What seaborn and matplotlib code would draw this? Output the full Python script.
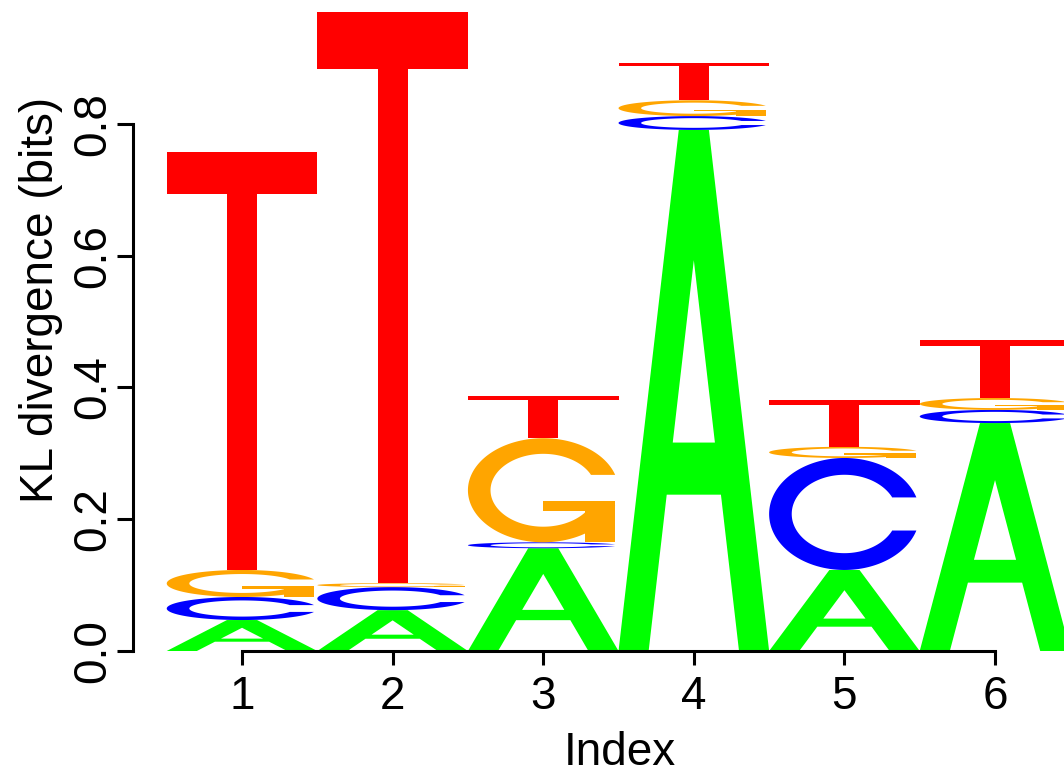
import numpy as np
import matplotlib
matplotlib.use("Agg")
import matplotlib.pyplot as plt
import seaborn as sns
from matplotlib.patches import PathPatch
from matplotlib.path import Path
from matplotlib.transforms import Affine2D

# Per-position information content (bits) for each base, stacked A, C, G, T
positions = [1, 2, 3, 4, 5, 6]
bases = ["A", "C", "G", "T"]
a_bits = [0.047, 0.062, 0.156, 0.791, 0.123, 0.346]
c_bits = [0.035, 0.035, 0.009, 0.021, 0.170, 0.020]
g_bits = [0.041, 0.006, 0.158, 0.024, 0.017, 0.018]
t_bits = [0.634, 0.867, 0.064, 0.057, 0.071, 0.088]
y_ticks = [0.0, 0.2, 0.4, 0.6, 0.8]
y_tick_labels = ["0.0", "0.2", "0.4", "0.6", "0.8"]
x_tick_labels = ["1", "2", "3", "4", "5", "6"]

bits = {"A": a_bits, "C": c_bits, "G": g_bits, "T": t_bits}
base_colors = {"A": "#00FF00", "C": "#0000FF", "G": "#FFA500", "T": "#FF0000"}

sns.set_theme(style="white")
plt.rcParams["font.family"] = ["Liberation Sans", "DejaVu Sans"]
plt.rcParams["text.color"] = "black"
plt.rcParams["axes.labelcolor"] = "black"
plt.rcParams["xtick.color"] = "black"
plt.rcParams["ytick.color"] = "black"


# ---- glyph outlines in the unit square (seqLogo-style block letters) ----
def glyph_A():
    outer = np.array([(0, 0), (4, 10), (6, 10), (10, 0), (8, 0),
                      (6.8, 3), (3.2, 3), (2, 0), (0, 0)], float) / 10
    hole = np.array([(3.6, 4), (6.4, 4), (5, 7.5), (3.6, 4)], float) / 10
    verts = np.vstack([outer, hole])
    codes = ([Path.MOVETO] + [Path.LINETO] * (len(outer) - 2) + [Path.CLOSEPOLY]
             + [Path.MOVETO] + [Path.LINETO] * (len(hole) - 2) + [Path.CLOSEPOLY])
    return [Path(verts, codes)]


def ring_C():
    a1 = np.linspace(0.3 + np.pi / 2, np.pi, 100)
    a2 = np.linspace(np.pi, 1.5 * np.pi, 100)
    xl1, yl1 = 0.5 + 0.5 * np.sin(a1), 0.5 + 0.5 * np.cos(a1)
    xl2, yl2 = 0.5 + 0.5 * np.sin(a2), 0.5 + 0.5 * np.cos(a2)
    xl = np.concatenate([xl1, xl2])
    yl = np.concatenate([yl1, yl2])
    x = np.concatenate([xl, xl[::-1]])
    y = np.concatenate([yl, 1 - yl[::-1]])
    ymax = yl1.max()
    xi1, yi1 = 0.5 + 0.35 * np.sin(a1), 0.5 + 0.35 * np.cos(a1)
    keep = yi1 <= ymax
    xi1, yi1 = xi1[keep], yi1[keep].copy()
    yi1[0] = ymax
    xi2, yi2 = 0.5 + 0.35 * np.sin(a2), 0.5 + 0.35 * np.cos(a2)
    xi = np.concatenate([xi1, xi2])
    yi = np.concatenate([yi1, yi2])
    x1 = np.concatenate([xi, xi[::-1]])
    y1 = np.concatenate([yi, 1 - yi[::-1]])
    x = np.concatenate([x, x1[::-1]])
    y = np.concatenate([y, y1[::-1]])
    return np.column_stack([x, y]), xl1.max()


def glyph_C():
    ring, _ = ring_C()
    return [Path(ring)]


def glyph_G():
    ring, r1 = ring_C()
    h1 = 0.4
    bar = np.array([(r1, h1), (0.5, h1), (0.5, h1 - 0.1), (r1 - 0.2, h1 - 0.1),
                    (r1 - 0.2, 0), (r1, 0), (r1, h1)])
    return [Path(ring), Path(bar)]


def glyph_T():
    outer = np.array([(0, 10), (10, 10), (10, 9), (6, 9), (6, 0),
                      (4, 0), (4, 9), (0, 9), (0, 10)], float) / 10
    return [Path(outer)]


glyphs = {"A": glyph_A(), "C": glyph_C(), "G": glyph_G(), "T": glyph_T()}

# ---- figure ----
W, H = 1064, 776
fig = plt.figure(figsize=(W / 100, H / 100), dpi=100)
ax_left, ax_bottom_px = 133, 651
ax = fig.add_axes([ax_left / W, (H - ax_bottom_px) / H,
                   (W - ax_left) / W, ax_bottom_px / H])
ax.set_xlim(0.276, 6.458)
ax.set_ylim(0, 0.9882)

for i, pos in enumerate(positions):
    bottom = 0.0
    for base in bases:
        h = bits[base][i]
        if h > 0:
            tr = Affine2D().scale(1.0, h).translate(pos - 0.5, bottom) + ax.transData
            for p in glyphs[base]:
                ax.add_patch(PathPatch(p, facecolor=base_colors[base],
                                       edgecolor="none", lw=0, transform=tr,
                                       zorder=1))
        bottom += h

sns.despine(ax=ax)
for side in ("left", "bottom"):
    ax.spines[side].set_color("black")
    ax.spines[side].set_linewidth(2.2)
    ax.spines[side].set_zorder(3)
ax.spines["left"].set_bounds(0, 0.8)
ax.spines["bottom"].set_bounds(1, 6)

ax.set_yticks(y_ticks)
ax.set_yticklabels(y_tick_labels, rotation=90, va="center")
ax.set_xticks(positions)
ax.set_xticklabels(x_tick_labels)
ax.tick_params(axis="y", direction="out", length=11.5, width=2.2,
               color="black", labelcolor="black", labelsize=33, pad=1, left=True)
ax.tick_params(axis="x", direction="out", length=10, width=2.2,
               color="black", labelcolor="black", labelsize=33, pad=7, bottom=True)
ax.grid(False)

ax.set_ylabel("KL divergence (bits)", fontsize=33, color="black")
ax.set_xlabel("Index", fontsize=33, color="black")
ax.yaxis.set_label_coords(-0.075, 0.539)
ax.xaxis.set_label_coords(0.523, -0.123)

fig.savefig("out.png", dpi=100)
